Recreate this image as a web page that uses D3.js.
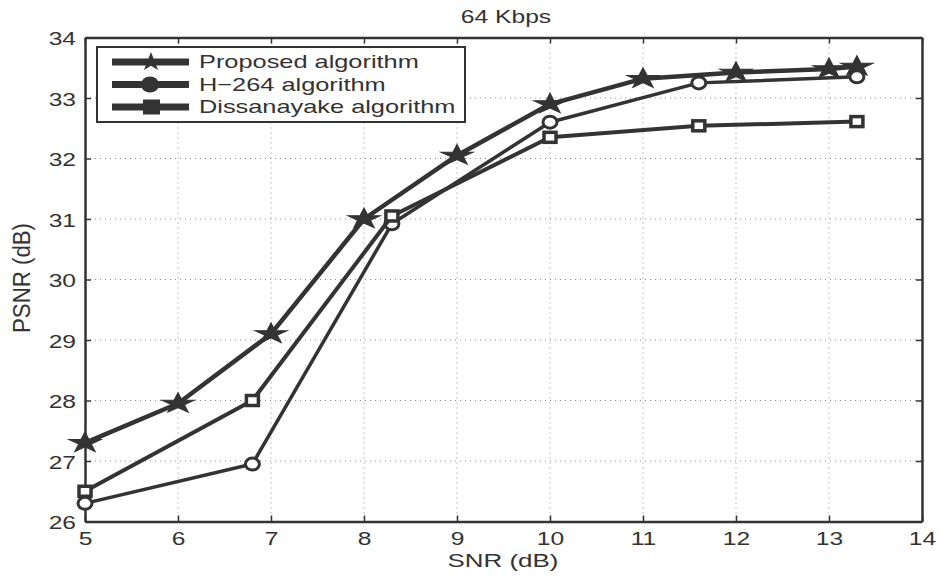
<!DOCTYPE html>
<html>
<head>
<meta charset="utf-8">
<script src="https://cdn.jsdelivr.net/npm/d3@7/dist/d3.min.js"></script>
<style>
  body { margin: 0; background: #fff; }
  svg { display: block; font-family: "Liberation Sans", Arial, sans-serif; }
</style>
</head>
<body>
<svg id="chart" width="940" height="578"></svg>
<script>
// SNR (dB) sample points per method
const proposedX = [5, 6, 7, 8, 9, 10, 11, 12, 13, 13.3];
const proposedY = [27.3, 27.95, 29.1, 31.0, 32.05, 32.9, 33.32, 33.42, 33.48, 33.52];
const h264X = [5, 6.8, 8.3, 10, 11.6, 13.3];
const h264Y = [26.3, 26.95, 30.92, 32.6, 33.25, 33.35];
const dissX = [5, 6.8, 8.3, 10, 11.6, 13.3];
const dissY = [26.5, 28.0, 31.05, 32.35, 32.54, 32.61];

const xTicks = [5, 6, 7, 8, 9, 10, 11, 12, 13, 14];
const yTicks = [26, 27, 28, 29, 30, 31, 32, 33, 34];
const seriesNames = ["Proposed algorithm", "H\u2212264 algorithm", "Dissanayake algorithm"];

const color = "#333";
const FONT = "'Liberation Sans', Arial, sans-serif";
const FS = 18.5;      // base font size
const WIDEN = 1.33;   // horizontal widening of the lettering

const svg = d3.select("#chart");
const m = { left: 85, right: 922, top: 37.5, bottom: 521.5 };

const x = d3.scaleLinear().domain([5, 14]).range([m.left, m.right]);
const y = d3.scaleLinear().domain([26, 34]).range([m.bottom, m.top]);

// stretch text horizontally by a factor
function widen(sel, k) {
  sel.each(function () {
    const len = this.getComputedTextLength();
    d3.select(this).attr("textLength", len * k).attr("lengthAdjust", "spacingAndGlyphs");
  });
}

// grid
const grid = svg.append("g").attr("stroke", "#8a8a8a").attr("stroke-width", 1)
  .attr("stroke-dasharray", "1,4");
xTicks.slice(1, -1).forEach(t => grid.append("line")
  .attr("x1", x(t)).attr("x2", x(t)).attr("y1", m.top).attr("y2", m.bottom));
yTicks.slice(1, -1).forEach(t => grid.append("line")
  .attr("x1", m.left).attr("x2", m.right).attr("y1", y(t)).attr("y2", y(t)));

// axes with inward ticks on all four sides
const axB = svg.append("g").attr("transform", `translate(0,${m.bottom})`)
  .call(d3.axisBottom(x).tickValues(xTicks).tickSizeInner(-6).tickSizeOuter(0).tickPadding(0));
const axT = svg.append("g").attr("transform", `translate(0,${m.top})`)
  .call(d3.axisTop(x).tickValues(xTicks).tickSizeInner(-6).tickSizeOuter(0).tickFormat(""));
const axL = svg.append("g").attr("transform", `translate(${m.left},0)`)
  .call(d3.axisLeft(y).tickValues(yTicks).tickSizeInner(-6).tickSizeOuter(0));
const axR = svg.append("g").attr("transform", `translate(${m.right},0)`)
  .call(d3.axisRight(y).tickValues(yTicks).tickSizeInner(-6).tickSizeOuter(0).tickFormat(""));
[axB, axT, axL, axR].forEach(a => {
  a.attr("font-family", FONT).attr("font-size", FS);
  a.select(".domain").attr("stroke", color).attr("stroke-width", 2.5);
  a.selectAll(".tick line").attr("stroke", color).attr("stroke-width", 1.5);
  a.selectAll("text").attr("fill", color);
});
axB.selectAll(".tick text").attr("dy", null).attr("y", 23.5);
axL.selectAll(".tick text").attr("dy", null).attr("x", -9).attr("y", 7);
widen(axB.selectAll(".tick text"), WIDEN);
widen(axL.selectAll(".tick text"), WIDEN);

// titles
const title = svg.append("text").attr("x", 506).attr("y", 22.5)
  .attr("text-anchor", "middle").attr("fill", color).style("font-size", FS + "px").text("64 Kbps");
widen(title, WIDEN);
const xLab = svg.append("text").attr("x", 503).attr("y", 567)
  .attr("text-anchor", "middle").attr("fill", color).style("font-size", FS + "px").text("SNR (dB)");
widen(xLab, 1.4);
svg.append("text").attr("transform", `translate(30,278) scale(${WIDEN},1) rotate(-90)`)
  .attr("text-anchor", "middle").attr("fill", color).style("font-size", FS + "px")
  .attr("textLength", 110).attr("lengthAdjust", "spacingAndGlyphs").text("PSNR (dB)");

const line = d3.line().x(d => x(d[0])).y(d => y(d[1]));
const zip = (a, b) => a.map((v, i) => [v, b[i]]);

// five-pointed star, outer radius R, inner radius r
function starPath(R) {
  const r = R * 0.382;
  const pts = d3.range(10).map(i => {
    const a = -Math.PI / 2 + i * Math.PI / 5;
    const rr = i % 2 ? r : R;
    return [rr * Math.cos(a), rr * Math.sin(a)];
  });
  return "M" + pts.map(p => p.join(",")).join("L") + "Z";
}

function drawMarker(g, kind, cx, cy) {
  if (kind === "star") {
    g.append("path").attr("d", starPath(10.5))
      .attr("transform", `translate(${cx},${cy}) scale(1.6,1)`)
      .attr("fill", color).attr("stroke", color).attr("stroke-width", 1);
  } else if (kind === "circle") {
    g.append("ellipse").attr("cx", cx).attr("cy", cy).attr("rx", 7).attr("ry", 6)
      .attr("fill", "white").attr("stroke", color).attr("stroke-width", 3);
  } else {
    g.append("rect").attr("x", cx - 6).attr("y", cy - 5).attr("width", 12).attr("height", 10)
      .attr("fill", "white").attr("stroke", color).attr("stroke-width", 3.5);
  }
}

const series = [
  { pts: zip(proposedX, proposedY), kind: "star", w: 4.5 },
  { pts: zip(h264X, h264Y), kind: "circle", w: 3.5 },
  { pts: zip(dissX, dissY), kind: "square", w: 4 }
];

const plot = svg.append("g");
series.forEach(s => {
  plot.append("path").datum(s.pts).attr("d", line).attr("fill", "none")
    .attr("stroke", color).attr("stroke-width", s.w).attr("stroke-linejoin", "round");
  s.pts.forEach(p => drawMarker(plot, s.kind, x(p[0]), y(p[1])));
});

// legend
const lg = svg.append("g");
lg.append("rect").attr("x", 97).attr("y", 47).attr("width", 368).attr("height", 75)
  .attr("fill", "white").attr("stroke", color).attr("stroke-width", 2);
const rowY = [62, 84.5, 107];
series.forEach((s, i) => {
  const ly = rowY[i];
  lg.append("line").attr("x1", 112).attr("x2", 189).attr("y1", ly).attr("y2", ly)
    .attr("stroke", color).attr("stroke-width", 7);
  if (s.kind === "star") {
    lg.append("path").attr("d", starPath(10)).attr("transform", `translate(151,${ly}) scale(1.2,1)`)
      .attr("fill", color);
  } else if (s.kind === "circle") {
    lg.append("ellipse").attr("cx", 150).attr("cy", ly).attr("rx", 9).attr("ry", 8)
      .attr("fill", color);
  } else {
    lg.append("rect").attr("x", 143).attr("y", ly - 7.5).attr("width", 17).attr("height", 15)
      .attr("fill", color);
  }
  const t = lg.append("text").attr("x", 199).attr("y", ly + 6).attr("fill", color)
    .style("font-size", FS + "px").text(seriesNames[i]);
  widen(t, 1.37);
});
</script>
</body>
</html>
